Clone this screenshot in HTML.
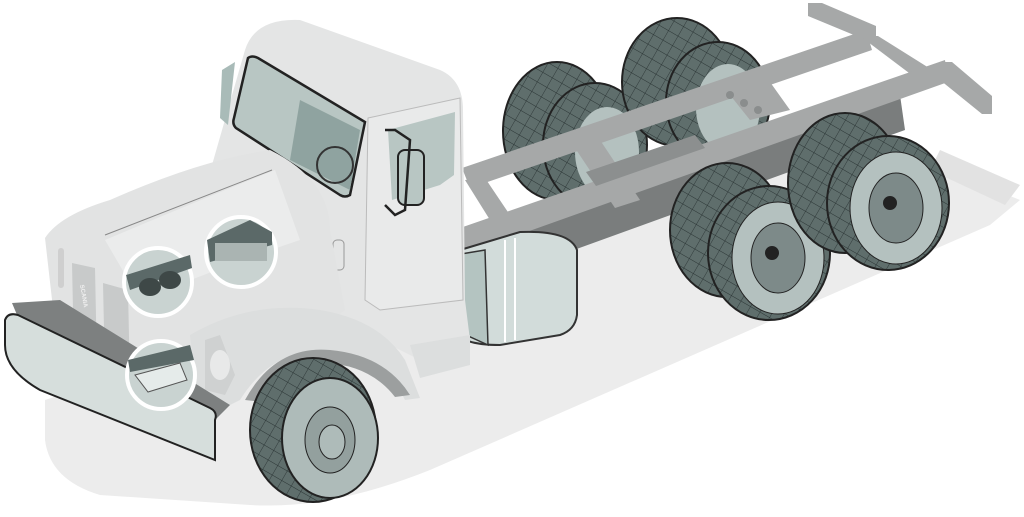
<!DOCTYPE html>
<html><head><style>html,body{margin:0;padding:0;background:#fff;width:1024px;height:517px;overflow:hidden}</style></head>
<body>
<svg width="1024" height="517" viewBox="0 0 1024 517" xmlns="http://www.w3.org/2000/svg">
<defs>
<pattern id="tr" width="11" height="11" patternUnits="userSpaceOnUse" patternTransform="rotate(30)">
<rect width="11" height="11" fill="#5f6e6c"/><path d="M0,0 L11,0 M0,0 L0,11" stroke="#2a3434" stroke-width="0.9"/>
</pattern>
</defs>
<!-- ground shadow -->
<path d="M45,400 L470,260 L600,215 L870,140 L1020,200 L990,225 L430,470 Q330,510 250,505 L100,495 Q50,480 45,440 Z" fill="#ececec"/>
<polygon points="940,150 1020,185 1005,205 930,170" fill="#e2e2e2"/>
<!-- far rear wheels -->
<g stroke="#222" stroke-width="2">
<ellipse cx="557" cy="131" rx="54" ry="69" fill="url(#tr)"/>
<ellipse cx="595" cy="145" rx="52" ry="62" fill="url(#tr)"/>
<ellipse cx="607" cy="152" rx="32" ry="45" fill="#b4c1bf" stroke="none"/>
<ellipse cx="677" cy="82" rx="55" ry="64" fill="url(#tr)"/>
<ellipse cx="718" cy="102" rx="52" ry="60" fill="url(#tr)"/>
<ellipse cx="728" cy="108" rx="32" ry="44" fill="#b4c1bf" stroke="none"/>
</g>
<!-- chassis dark web -->
<polygon points="490,230 900,95 905,130 560,255 500,262" fill="#7a7d7d"/>
<!-- chassis -->
<g fill="#a6a8a8">
<polygon points="462,168 866,30 872,50 470,188"/>
<polygon points="808,3 822,3 876,26 876,40 866,40 808,16"/>
<polygon points="860,36 878,36 945,78 925,85"/>
<polygon points="460,228 945,60 948,82 462,255"/>
<polygon points="940,62 952,62 992,96 992,114 982,114 940,80"/>
<polygon points="465,180 485,178 520,230 500,236"/>
<polygon points="575,148 600,140 640,200 615,208"/>
<polygon points="730,95 770,82 790,110 750,120"/>
</g>
<polygon points="586,172 695,135 705,148 596,186" fill="#8c8f8f"/>
<g fill="#8a8d8d"><circle cx="730" cy="95" r="4"/><circle cx="744" cy="103" r="4"/><circle cx="758" cy="110" r="4"/></g>
<!-- near rear wheels -->
<g stroke="#222" stroke-width="2">
<ellipse cx="727" cy="230" rx="57" ry="67" fill="url(#tr)"/>
<ellipse cx="769" cy="253" rx="61" ry="67" fill="url(#tr)"/>
<ellipse cx="778" cy="258" rx="46" ry="56" fill="#b4c1bf" stroke-width="1"/>
<ellipse cx="778" cy="258" rx="27" ry="35" fill="#7d8a89" stroke-width="1"/>
<circle cx="772" cy="253" r="6" fill="#222"/>
<ellipse cx="845" cy="183" rx="57" ry="70" fill="url(#tr)"/>
<ellipse cx="888" cy="203" rx="61" ry="67" fill="url(#tr)"/>
<ellipse cx="896" cy="208" rx="46" ry="56" fill="#b4c1bf" stroke-width="1"/>
<ellipse cx="896" cy="208" rx="27" ry="35" fill="#7d8a89" stroke-width="1"/>
<circle cx="890" cy="203" r="6" fill="#222"/>
</g>
<!-- fuel tank -->
<path d="M460,250 L520,232 Q570,230 577,250 L577,315 Q575,330 560,335 L500,345 Q460,345 455,330 Z" fill="#d2dcda" stroke="#333" stroke-width="2"/>
<path d="M455,255 L485,250 L488,345 L455,330 Z" fill="#b4c4c1" stroke="#333" stroke-width="1.5"/>
<path d="M505,240 L505,342 M515,238 L515,340" stroke="#fff" stroke-width="2"/>
<!-- cab -->
<path d="M212,165 L245,50 Q255,18 300,20 L440,70 Q463,80 463,110 L465,300 L470,340 L420,360 L360,330 L212,230 Z" fill="#e4e5e5"/>
<path d="M248,58 Q252,55 258,58 L365,122 L350,195 Q345,198 340,195 L236,128 Q232,124 234,118 Z" fill="#b8c6c3" stroke="#222" stroke-width="2.5"/>
<path d="M300,100 L360,130 L350,190 L290,160 Z" fill="#8fa3a0"/>
<circle cx="335" cy="165" r="18" fill="none" stroke="#333" stroke-width="2"/>
<path d="M368,118 L460,98 L463,300 L380,310 L365,300 Z" fill="#e9eaea" stroke="#bbb"/>
<path d="M388,130 L455,112 L454,175 L440,185 L392,200 Z" fill="#b8c6c3"/>
<rect x="398" y="150" width="26" height="55" rx="7" fill="#b8c6c3" stroke="#222" stroke-width="2"/>
<path d="M385,130 L395,130 L410,140 L405,210 L395,215 L385,205" fill="none" stroke="#222" stroke-width="2.5"/>
<polygon points="222,70 235,62 228,125 220,118" fill="#a9bbb8"/>
<rect x="333" y="240" width="11" height="30" rx="4" fill="none" stroke="#999"/>
<!-- hood -->
<path d="M45,238 Q60,215 110,200 Q200,160 270,150 Q330,180 330,230 L345,310 Q320,330 270,340 L200,440 L60,370 Z" fill="#e2e3e3"/>
<path d="M105,240 Q200,200 275,170 L300,240 Q240,260 140,300 Z" fill="#ebecec"/>
<path d="M105,235 L272,170" stroke="#888" stroke-width="1"/>
<!-- fender -->
<path d="M190,335 Q250,300 320,310 Q380,320 405,360 L420,398 L405,400 Q380,350 320,350 Q270,352 240,400 L200,420 Z" fill="#dcdede"/>
<path d="M245,400 Q275,345 330,350 Q385,355 410,395 L395,397 Q370,365 325,363 Q285,365 262,402 Z" fill="#9c9f9f"/>
<path d="M205,340 L220,335 L235,375 L225,395 L205,390 Z" fill="#cfd1d1"/>
<ellipse cx="220" cy="365" rx="10" ry="15" fill="#e8e9e9"/>
<path d="M410,345 L470,335 L470,365 L420,378 Z" fill="#dcdede"/>
<!-- grill -->
<polygon points="72,263 95,268 97,365 74,358" fill="#c8caca"/>
<polygon points="103,283 128,290 130,383 105,375" fill="#c8caca"/>
<rect x="58" y="248" width="6" height="40" rx="3" fill="#cfcfcf"/>
<text x="80" y="285" font-family="Liberation Sans, sans-serif" font-size="6" font-weight="bold" fill="#f0f0f0" transform="rotate(80 80 285)">SCANIA</text>
<!-- bumper -->
<path d="M12,303 L60,300 L230,405 L215,420 L20,322 Z" fill="#7d8080"/>
<path d="M5,320 Q8,312 18,315 L210,408 Q218,412 215,420 L215,460 L40,390 Q5,370 5,345 Z" fill="#d6dedc" stroke="#222" stroke-width="2"/>
<!-- detail circles -->
<g stroke="#fff" stroke-width="4">
<circle cx="158" cy="282" r="34" fill="#c9d3d1"/>
<circle cx="241" cy="252" r="35" fill="#c9d3d1"/>
<circle cx="161" cy="375" r="34" fill="#c9d3d1"/>
</g>
<path d="M126,275 L190,255 L192,268 L130,290 Z" fill="#5b6968"/>
<ellipse cx="150" cy="287" rx="11" ry="9" fill="#3e4847"/><ellipse cx="170" cy="280" rx="11" ry="9" fill="#3e4847"/>
<path d="M207,240 L250,220 L272,232 L272,245 L210,262 Z" fill="#5b6968"/>
<rect x="215" y="243" width="52" height="18" fill="#aab4b2"/>
<path d="M128,360 L190,345 L194,360 L130,372 Z" fill="#5b6968"/>
<path d="M135,375 L180,363 L187,380 L148,392 Z" fill="#e5ebea" stroke="#555"/>
<!-- front wheel -->
<g stroke="#222" stroke-width="2">
<ellipse cx="313" cy="430" rx="63" ry="72" fill="url(#tr)"/>
<ellipse cx="330" cy="438" rx="48" ry="60" fill="#aebbb9"/>
<ellipse cx="330" cy="440" rx="25" ry="33" fill="#93a09e" stroke-width="1"/>
<ellipse cx="332" cy="442" rx="13" ry="17" fill="#aebbb9" stroke-width="1"/>
</g>
</svg>
</body></html>
